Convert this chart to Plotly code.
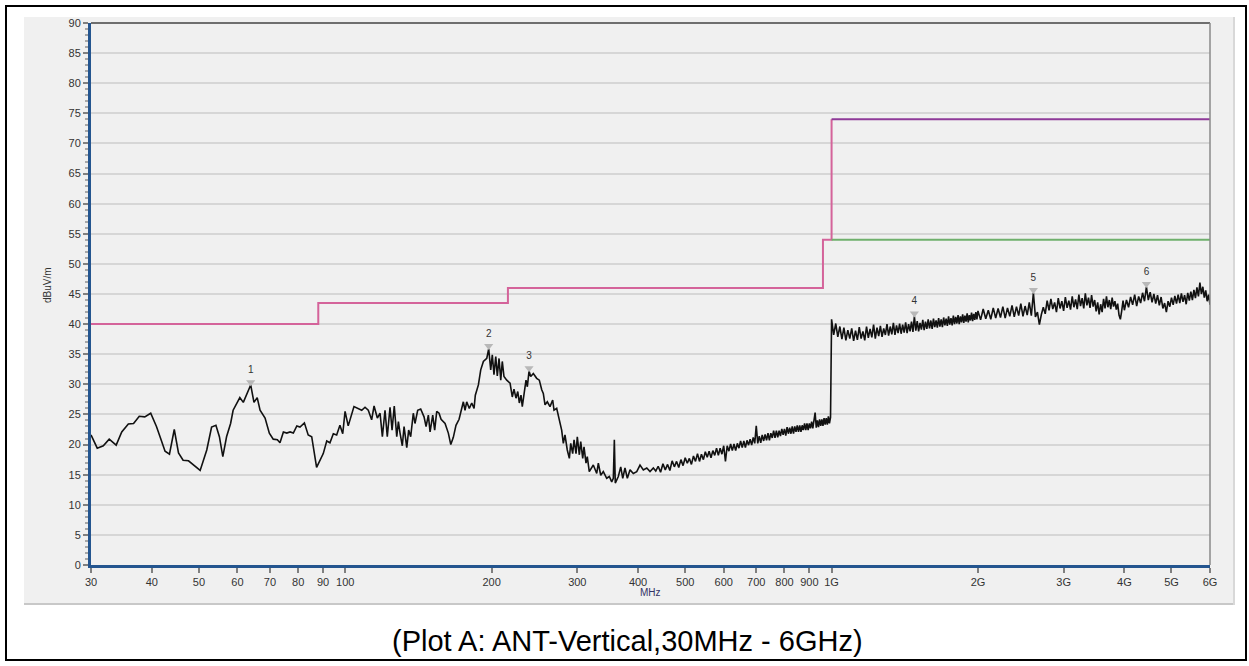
import math
import plotly.graph_objects as go

# ---------------- data ----------------
# 30 MHz - 440 MHz measured trace
freq_a = [30, 30.9, 31.8, 32.7, 33.8, 34.7, 35.8, 36.7, 37.7, 38.7,
          39.8, 40.9, 41.6, 42.6, 43.5, 44.5, 45.4, 46.4, 47.6, 50.3,
          51.9, 53.1, 54.2, 55.1, 56.0, 57.0, 58.1, 58.8, 60.7, 61.7,
          63.9, 64.9, 65.9, 66.8, 68.4, 69.8, 71.1, 72.5, 73.4, 74.6,
          75.8, 77.0, 78.2, 79.5, 80.7, 82.4, 83.9, 85.3, 87.3, 90.1,
          91.6, 93.0, 94.5, 96.0, 97.5, 98.8, 99.9, 101.4, 104.2, 106.4,
          108.1, 109.8, 111.5, 113.3, 114.6, 116.4, 117.9, 119.2, 120.7, 122.0,
          123.6, 124.8, 126.1, 127.6, 128.6, 129.6, 131.0, 132.1, 133.8, 135.0,
          136.3, 138.0, 139.1, 140.9, 142.9, 145.2, 146.6, 148.2, 149.4, 151.3,
          152.7, 154.2, 155.9, 157.4, 160.4, 162.9, 164.8, 166.8, 168.9, 171.4,
          173.0, 174.9, 176.3, 177.7, 179.9, 182.0, 184.0, 185.1, 187.8, 189.9,
          192.3, 195.4, 197.2, 199.1, 200.6, 202.2, 203.9, 205.4, 207.1, 208.8,
          210.3, 212.0, 214.8, 218.2, 220.5, 222.3, 224.4, 226.3, 228.0, 229.8,
          231.2, 233.1, 235.3, 236.8, 238.7, 240.6, 243.6, 247.5, 250.6, 253.5,
          255.4, 257.5, 260.3, 263.6, 267.0, 268.7, 272.1, 275.5, 278.6, 280.8,
          283.0, 286.1, 288.9, 290.8, 293.5, 295.4, 298.2, 300.0, 302.9, 304.9,
          307.8, 309.7, 312.6, 314.5, 317.5, 323.6, 328.9, 331.4, 335.2, 339.3,
          344.8, 349.1, 353.1, 355.8, 357.5, 359.1, 364.3, 368.5, 372.0, 376.0,
          380.2, 385.1, 391.1, 397.5, 403.7, 410.1, 416.8, 423.3, 430.0, 435.0]
level_a = [21.6, 19.4, 19.8, 20.9, 19.9, 22.1, 23.4, 23.5, 24.7, 24.6,
           25.2, 23.0, 21.3, 18.9, 18.4, 22.5, 18.6, 17.4, 17.3, 15.7,
           19.1, 22.9, 23.2, 21.3, 18.0, 21.3, 23.5, 25.7, 27.8, 27.0,
           29.9, 27.0, 27.8, 25.7, 24.4, 21.9, 20.9, 20.8, 20.3, 22.1,
           21.9, 22.1, 21.9, 23.1, 22.9, 23.6, 21.6, 21.3, 16.2, 18.5,
           20.6, 20.3, 21.8, 21.6, 23.2, 21.8, 25.5, 23.1, 26.3, 25.9,
           25.7, 26.2, 25.7, 24.1, 26.4, 24.4, 25.2, 21.3, 25.7, 21.3,
           26.2, 22.4, 26.4, 21.3, 23.8, 21.9, 19.8, 23.0, 19.5, 22.4,
           21.3, 25.2, 23.5, 25.7, 25.9, 24.6, 23.0, 24.9, 22.1, 24.9,
           22.4, 25.5, 25.2, 24.2, 23.5, 21.9, 20.0, 21.2, 23.2, 24.2,
           25.7, 27.1, 25.7, 27.1, 26.0, 26.9, 26.0, 28.2, 29.9, 32.4,
           33.8, 34.3, 35.9, 32.4, 34.9, 31.6, 34.6, 31.4, 34.3, 30.7,
           33.8, 31.3, 30.7, 30.2, 27.9, 29.2, 27.7, 28.8, 26.9, 28.2,
           26.3, 28.5, 30.7, 29.6, 32.2, 31.3, 31.8, 31.0, 30.7, 29.1,
           28.5, 26.6, 27.1, 26.3, 27.4, 25.7, 26.0, 24.1, 22.4, 20.2,
           21.6, 19.1, 17.7, 20.2, 18.5, 20.8, 18.5, 21.3, 18.3, 20.5,
           17.7, 19.6, 16.9, 18.0, 15.5, 16.6, 15.2, 16.9, 14.9, 15.5,
           14.4, 14.7, 13.8, 14.4, 20.8, 13.6, 14.7, 16.3, 14.4, 16.1,
           14.4, 15.8, 15.2, 15.5, 16.6, 15.8, 16.1, 15.5, 16.1, 15.6]

# 440 MHz - 1 GHz
freq_b = [440, 445, 450, 455, 460, 465, 470, 475, 480, 485,
          490, 495, 500, 505, 510, 515, 520, 525, 530, 535,
          540, 545, 550, 555, 560, 565, 570, 575, 580, 585,
          590, 595, 600, 605, 610, 615, 620, 625, 630, 635,
          640, 645, 650, 655, 660, 665, 670, 675, 680, 685,
          690, 695, 700, 705, 710, 715, 720, 725, 730, 735,
          740, 745, 750, 755, 760, 765, 770, 775, 780, 785,
          790, 795, 800, 805, 810, 815, 820, 825, 830, 835,
          840, 845, 850, 855, 860, 865, 870, 875, 880, 885,
          890, 895, 900, 905, 910, 915, 920, 925, 930, 935,
          940, 945, 950, 955, 960, 965, 970, 975, 980, 985,
          990, 995]
level_b = [16.4, 15.4, 16.8, 15.8, 16.7, 15.7, 17.3, 16.3, 17.2, 16.2,
           17.5, 16.5, 17.8, 16.9, 17.7, 16.7, 18.1, 17.2, 18.5, 17.2,
           18.4, 17.5, 18.8, 17.9, 18.9, 17.8, 19.0, 18.2, 19.4, 18.2,
           19.4, 18.4, 19.8, 17.2, 19.8, 18.9, 20.1, 19.0, 20.1, 19.0,
           20.2, 19.4, 20.6, 19.5, 20.6, 19.5, 20.7, 19.9, 20.9, 19.9,
           21.2, 20.2, 23.1, 20.2, 21.4, 20.3, 21.6, 20.6, 21.7, 20.7,
           21.9, 20.7, 21.9, 21.1, 22.3, 21.1, 22.3, 21.2, 22.3, 21.4,
           22.6, 21.6, 22.6, 21.5, 22.9, 21.8, 22.8, 21.8, 23.0, 21.8,
           23.0, 22.1, 23.2, 22.1, 23.2, 22.1, 23.2, 22.4, 23.5, 22.4,
           23.5, 22.4, 23.5, 22.7, 23.8, 22.7, 23.8, 25.3, 22.8, 24.0,
           22.9, 24.2, 23.1, 24.2, 23.1, 24.4, 23.3, 24.4, 23.3, 24.7,
           23.5, 24.5]

# 1 GHz - 2 GHz
freq_c = [1000, 1010, 1020, 1030, 1040, 1050, 1060, 1070, 1080, 1090,
          1100, 1110, 1120, 1130, 1140, 1150, 1160, 1170, 1180, 1190,
          1200, 1210, 1220, 1230, 1240, 1250, 1260, 1270, 1280, 1290,
          1300, 1310, 1320, 1330, 1340, 1350, 1360, 1370, 1380, 1390,
          1400, 1410, 1420, 1430, 1440, 1450, 1460, 1470, 1480, 1490,
          1500, 1510, 1520, 1530, 1540, 1550, 1560, 1570, 1580, 1590,
          1600, 1610, 1620, 1630, 1640, 1650, 1660, 1670, 1680, 1690,
          1700, 1710, 1720, 1730, 1740, 1750, 1760, 1770, 1780, 1790,
          1800, 1810, 1820, 1830, 1840, 1850, 1860, 1870, 1880, 1890,
          1900, 1910, 1920, 1930, 1940, 1950, 1960, 1970, 1980, 1990]
level_c = [40.8, 38.2, 40.1, 37.9, 39.6, 37.5, 39.4, 37.3, 39.0, 37.6,
           39.3, 37.2, 38.9, 37.4, 39.5, 37.6, 38.8, 37.3, 39.6, 37.7,
           39.2, 37.8, 39.9, 37.6, 39.4, 38.0, 39.7, 37.9, 39.3, 38.2,
           40.0, 38.1, 39.6, 38.3, 40.2, 38.2, 39.8, 38.5, 40.1, 38.4,
           39.9, 38.6, 40.3, 38.5, 40.0, 38.8, 40.4, 38.7, 41.3, 38.9,
           40.5, 38.8, 40.2, 39.1, 40.7, 39.0, 40.4, 39.2, 40.8, 39.3,
           40.6, 39.2, 40.9, 39.5, 40.6, 39.4, 41.0, 39.6, 40.8, 39.5,
           41.1, 39.8, 40.9, 39.7, 41.3, 39.9, 41.0, 39.8, 41.4, 40.0,
           41.2, 40.1, 41.5, 40.0, 41.3, 40.3, 41.6, 40.2, 41.4, 40.4,
           41.8, 40.3, 41.5, 40.6, 41.9, 40.5, 41.7, 40.7, 42.0, 40.8]

# 2 GHz - 4 GHz
freq_d = [2000, 2025, 2050, 2075, 2100, 2125, 2150, 2175, 2200, 2225,
          2250, 2275, 2300, 2325, 2350, 2375, 2400, 2425, 2450, 2475,
          2500, 2525, 2550, 2575, 2600, 2625, 2650, 2675, 2700, 2725,
          2750, 2775, 2800, 2825, 2850, 2875, 2900, 2925, 2950, 2975,
          3000, 3025, 3050, 3075, 3100, 3125, 3150, 3175, 3200, 3225,
          3250, 3275, 3300, 3325, 3350, 3375, 3400, 3425, 3450, 3475,
          3500, 3525, 3550, 3575, 3600, 3625, 3650, 3675, 3700, 3725,
          3750, 3775, 3800, 3825, 3850, 3875, 3900, 3925, 3950, 3975]
level_d = [42.2, 40.7, 42.5, 40.9, 42.3, 40.8, 42.7, 41.0, 42.6, 41.1,
           42.9, 41.0, 42.7, 41.3, 43.1, 41.2, 42.9, 41.4, 43.4, 41.3,
           43.0, 41.5, 43.6, 41.4, 45.2, 41.2, 42.0, 39.9, 41.6, 42.8,
           41.7, 43.9, 42.3, 44.2, 42.5, 43.6, 42.0, 44.3, 42.6, 43.8,
           42.2, 44.5, 42.7, 43.9, 42.4, 44.6, 42.8, 44.1, 42.5, 44.9,
           43.0, 44.3, 42.6, 45.1, 43.1, 44.4, 42.7, 44.8, 42.9, 44.0,
           42.1, 43.6, 41.6, 43.3, 42.0, 44.2, 42.6, 44.6, 42.8, 44.0,
           42.5, 44.4, 42.9, 43.8, 42.4, 43.4, 41.5, 40.8, 42.2, 43.9]

# 4 GHz - 6 GHz
freq_e = [4000, 4040, 4080, 4120, 4160, 4200, 4240, 4280, 4320, 4360,
          4400, 4440, 4480, 4520, 4560, 4600, 4640, 4680, 4720, 4760,
          4800, 4840, 4880, 4920, 4960, 5000, 5040, 5080, 5120, 5160,
          5200, 5240, 5280, 5320, 5360, 5400, 5440, 5480, 5520, 5560,
          5600, 5640, 5680, 5720, 5760, 5800, 5840, 5880, 5920, 5960,
          6000]
level_e = [42.3, 44.0, 42.8, 44.5, 43.2, 44.9, 43.0, 44.6, 43.5, 45.2,
           43.8, 46.2, 44.0, 45.3, 43.6, 45.0, 43.4, 44.8, 43.1, 44.5,
           42.6, 43.5, 42.0, 43.8, 42.9, 44.4, 43.2, 44.7, 43.4, 44.9,
           43.5, 45.1, 43.7, 44.8, 43.3, 45.2, 43.9, 45.4, 44.0, 45.7,
           44.3, 46.1, 44.6, 46.9, 45.0, 46.2, 44.4, 45.6, 43.8, 44.9,
           43.2]

# limit lines
qp_limit_freq = [30, 88, 88, 216, 216, 960, 960, 1000, 1000]
qp_limit_level = [40, 40, 43.5, 43.5, 46, 46, 54, 54, 74]
pk_limit_freq = [1000, 6000]
pk_limit_level = [74, 74]
av_limit_freq = [1000, 6000]
av_limit_level = [54, 54]

# peak markers
marker_labels = ["1", "2", "3", "4", "5", "6"]
marker_freq = [63.9, 197.2, 238.7, 1480, 2600, 4440]
marker_level = [29.9, 35.9, 32.2, 41.3, 45.2, 46.2]

# axis ticks
x_tickvals = [30, 40, 50, 60, 70, 80, 90, 100, 200, 300, 400, 500, 600, 700,
              800, 900, 1000, 2000, 3000, 4000, 5000, 6000]
x_ticktext = ["30", "40", "50", "60", "70", "80", "90", "100", "200", "300",
              "400", "500", "600", "700", "800", "900", "1G", "2G", "3G",
              "4G", "5G", "6G"]

freq = freq_a + freq_b + freq_c + freq_d + freq_e
level = level_a + level_b + level_c + level_d + level_e

# ---------------- figure ----------------
W, H = 1249, 666
ML, MR, MT, MB = 91, 39, 23, 101
PW, PH = W - ML - MR, H - MT - MB


def px(xp):
    return (xp - ML) / PW


def py(yp):
    return (H - MB - yp) / PH


FONT = "Arial, Liberation Sans, sans-serif"

fig = go.Figure()
fig.add_trace(go.Scatter(x=qp_limit_freq, y=qp_limit_level, mode="lines",
                         line=dict(color="#d4639a", width=2), hoverinfo="skip"))
fig.add_trace(go.Scatter(x=pk_limit_freq, y=pk_limit_level, mode="lines",
                         line=dict(color="#8e3a98", width=2), hoverinfo="skip"))
fig.add_trace(go.Scatter(x=av_limit_freq, y=av_limit_level, mode="lines",
                         line=dict(color="#6fb06c", width=2), hoverinfo="skip"))
fig.add_trace(go.Scatter(x=freq, y=level, mode="lines",
                         line=dict(color="#111111", width=1.6)))
fig.add_trace(go.Scatter(x=marker_freq, y=[v + 0.45 for v in marker_level],
                         mode="markers",
                         marker=dict(symbol="triangle-down", size=8,
                                     color="#b8b8b8")))
fig.add_trace(go.Scatter(x=marker_freq, y=[v + 2.4 for v in marker_level],
                         mode="text", text=marker_labels,
                         textfont=dict(size=10, color="#333333", family=FONT)))

shapes = [
    # grey panel
    dict(type="rect", xref="paper", yref="paper", x0=px(24), x1=px(1235),
         y0=py(605), y1=py(17), fillcolor="#f0f0f0", line=dict(width=0),
         layer="below"),
    dict(type="line", xref="paper", yref="paper", x0=px(24), x1=px(1235),
         y0=py(604), y1=py(604), line=dict(color="#c8c8c8", width=2)),
    dict(type="line", xref="paper", yref="paper", x0=px(1234), x1=px(1234),
         y0=py(605), y1=py(17), line=dict(color="#d8d8d8", width=2)),
    # outer black frame
    dict(type="rect", xref="paper", yref="paper", x0=px(6), x1=px(1246),
         y0=py(660), y1=py(6), line=dict(color="#000000", width=2),
         fillcolor="rgba(0,0,0,0)"),
    # top / right plot border
    dict(type="line", xref="paper", yref="paper", x0=0, x1=1, y0=1, y1=1,
         line=dict(color="#6e6e6e", width=2)),
    dict(type="line", xref="paper", yref="paper", x0=1, x1=1, y0=0, y1=1,
         line=dict(color="#8a8a8a", width=1.5)),
]

annotations = [
    dict(text="dBuV/m", xref="paper", yref="paper", x=px(47), y=py(285),
         xanchor="center", yanchor="middle",
         textangle=-90, showarrow=False,
         font=dict(size=10, color="#333333", family=FONT)),
    dict(text="MHz", xref="paper", yref="paper", x=px(650), y=py(592),
         xanchor="center", yanchor="middle",
         showarrow=False, font=dict(size=10, color="#333366", family=FONT)),
    dict(text="(Plot A: ANT-Vertical,30MHz - 6GHz)", xref="paper",
         yref="paper", x=px(627), y=py(641), xanchor="center",
         yanchor="middle", showarrow=False,
         font=dict(size=29, color="#000000", family=FONT)),
]

fig.update_layout(
    width=W, height=H,
    margin=dict(l=ML, r=MR, t=MT, b=MB, pad=0),
    paper_bgcolor="#ffffff",
    plot_bgcolor="#f0f0f0",
    showlegend=False,
    shapes=shapes,
    annotations=annotations,
    font=dict(family=FONT, size=11, color="#333333"),
    xaxis=dict(type="log", range=[math.log10(30), math.log10(6000)],
               tickmode="array", tickvals=x_tickvals, ticktext=x_ticktext,
               ticks="outside", ticklen=5, tickwidth=1.5, tickcolor="#808080",
               showgrid=False, zeroline=False, showline=True,
               linecolor="#24558f", linewidth=2.5,
               tickfont=dict(size=11, color="#333333", family=FONT)),
    yaxis=dict(range=[0, 90], tick0=0, dtick=5, ticks="outside", ticklen=5,
               tickwidth=1.5, tickcolor="#808080",
               showgrid=True, gridcolor="#d6d6d6", gridwidth=1.5,
               zeroline=False, showline=True, linecolor="#24558f",
               linewidth=3,
               minor=dict(dtick=1, ticks="outside", ticklen=3,
                          tickcolor="#a8a8a8", showgrid=False),
               tickfont=dict(size=11, color="#333333", family=FONT)),
)

fig.write_html(
    "out.html",
    config={"displayModeBar": False},
    post_script="document.body.style.margin='0px';"
                "document.body.style.overflow='hidden';",
)
